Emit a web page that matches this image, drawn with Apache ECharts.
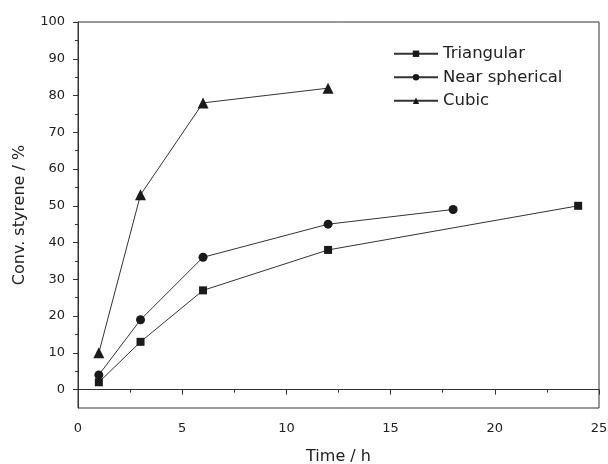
<!DOCTYPE html>
<html>
<head>
<meta charset="utf-8">
<script src="https://cdn.jsdelivr.net/npm/echarts@6/dist/echarts.min.js"></script>
<style>
  html, body { margin: 0; padding: 0; background: #fff; }
  #chart { width: 608px; height: 464px; }
</style>
</head>
<body>
<div id="chart"></div>
<script>
  // 数据
  var seriesNames = ['Triangular', 'Near spherical', 'Cubic'];
  var triangular = [[1, 2], [3, 13], [6, 27], [12, 38], [24, 50]];
  var nearSpherical = [[1, 4], [3, 19], [6, 36], [12, 45], [18, 49]];
  var cubic = [[1, 10], [3, 53], [6, 78], [12, 82]];
  var yTicks = [0, 10, 20, 30, 40, 50, 60, 70, 80, 90, 100];
  var yMinorTicks = [5, 15, 25, 35, 45, 55, 65, 75, 85, 95];

  var chart = echarts.init(document.getElementById('chart'));
  var font = 'DejaVu Sans, sans-serif';

  chart.setOption({
    animation: false,
    textStyle: { fontFamily: font },
    grid: {
      left: 78, right: 9, top: 22, bottom: 56,
      outerBoundsMode: 'none',
      containLabel: false,
      show: true, borderColor: '#333', borderWidth: 1
    },
    legend: {
      orient: 'vertical',
      left: 388,
      top: 40,
      itemWidth: 44,
      itemHeight: 8,
      itemGap: 6,
      textStyle: { fontSize: 16.5, lineHeight: 17.5, color: '#222', fontFamily: font },
      data: seriesNames
    },
    xAxis: {
      type: 'value',
      min: 0, max: 25, interval: 5,
      name: 'Time / h',
      nameLocation: 'middle',
      nameGap: 41,
      nameTextStyle: { fontSize: 16, color: '#222' },
      axisLine: { lineStyle: { color: '#333', width: 1 } },
      axisTick: { length: 5, lineStyle: { color: '#333' } },
      minorTick: { show: true, splitNumber: 2, length: 3, lineStyle: { color: '#333' } },
      axisLabel: { fontSize: 13, color: '#222', margin: 14 },
      splitLine: { show: false }
    },
    yAxis: [
      {
        type: 'value',
        min: -5, max: 100,
        name: 'Conv. styrene / %',
        nameLocation: 'middle',
        nameGap: 50,
        nameTextStyle: { fontSize: 16, color: '#222' },
        axisLine: { show: true, lineStyle: { color: '#333', width: 1 } },
        axisTick: { show: true, length: 5, customValues: yTicks, lineStyle: { color: '#333' } },
        axisLabel: { fontSize: 13, color: '#222', margin: 13, customValues: yTicks },
        splitLine: { show: false }
      },
      {
        // 次刻度
        type: 'value',
        min: -5, max: 100,
        position: 'left',
        axisLine: { show: false },
        axisTick: { show: true, length: 3, customValues: yMinorTicks, lineStyle: { color: '#333' } },
        axisLabel: { show: false },
        splitLine: { show: false }
      }
    ],
    series: [
      {
        name: 'Triangular', type: 'line', data: triangular,
        symbol: 'rect', symbolSize: 8,
        lineStyle: { color: '#333', width: 1 },
        itemStyle: { color: '#1a1a1a' }
      },
      {
        name: 'Near spherical', type: 'line', data: nearSpherical,
        symbol: 'circle', symbolSize: 9,
        lineStyle: { color: '#333', width: 1 },
        itemStyle: { color: '#1a1a1a' }
      },
      {
        name: 'Cubic', type: 'line', data: cubic,
        symbol: 'triangle', symbolSize: 11,
        lineStyle: { color: '#333', width: 1 },
        itemStyle: { color: '#1a1a1a' }
      }
    ]
  });
</script>
</body>
</html>
